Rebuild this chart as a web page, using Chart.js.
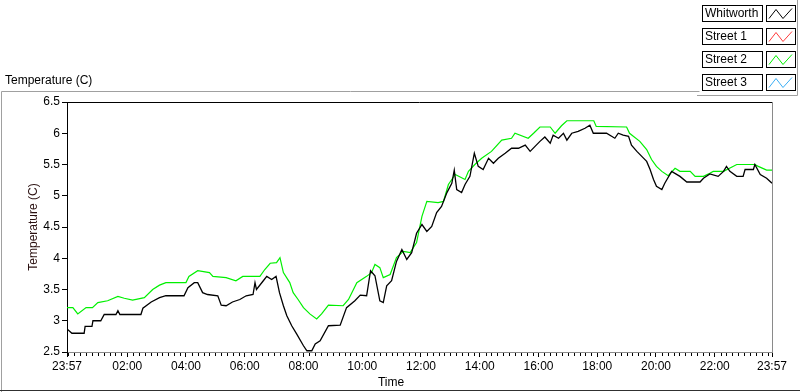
<!DOCTYPE html>
<html>
<head>
<meta charset="utf-8">
<script src="https://cdn.jsdelivr.net/npm/chart.js@4.4.1/dist/chart.umd.min.js"></script>
<style>
  html, body { margin: 0; padding: 0; background: #fff; }
  #wrap { width: 800px; height: 392px; }
</style>
</head>
<body>
<div id="wrap"><canvas id="tempChart" width="800" height="392"></canvas></div>
<script>
// minutes from midnight (-3 = 23:57 the day before, 1437 = 23:57)
const whitworthTimes = [-3, 7, 32, 34, 48, 50, 66, 73, 97, 101, 105, 148, 152, 169, 186, 199, 236, 244, 257, 264,
    274, 284, 305, 312, 322, 335, 350, 363, 377, 381, 384, 398, 405, 415, 424, 431, 439, 446, 456, 466,
    480, 487, 497, 504, 514, 531, 555, 568, 585, 596, 609, 617, 626, 636, 643, 650, 660, 670, 681, 691,
    701, 711, 722, 732, 742, 752, 762, 773, 783, 788, 793, 803, 810, 820, 829, 837, 847, 858, 868, 878,
    892, 905, 919, 933, 943, 953, 963, 973, 984, 990, 1001, 1011, 1018, 1028, 1041, 1055, 1065, 1072, 1099, 1116,
    1123, 1133, 1144, 1150, 1161, 1171, 1181, 1188, 1195, 1201, 1212, 1218, 1232, 1249, 1263, 1290, 1297, 1310, 1327, 1338,
    1344, 1351, 1365, 1378, 1382, 1399, 1402, 1413, 1426, 1437];
const whitworthTemps = [2.87, 2.80, 2.80, 2.91, 2.91, 3.00, 3.00, 3.10, 3.10, 3.16, 3.10, 3.10, 3.20, 3.30, 3.37, 3.40, 3.40, 3.53, 3.61, 3.61,
    3.45, 3.42, 3.40, 3.25, 3.24, 3.30, 3.34, 3.40, 3.42, 3.61, 3.50, 3.64, 3.71, 3.66, 3.71, 3.45, 3.24, 3.08, 2.92, 2.79,
    2.60, 2.52, 2.52, 2.63, 2.68, 2.92, 2.93, 3.21, 3.32, 3.41, 3.40, 3.80, 3.72, 3.32, 3.29, 3.56, 3.64, 3.95, 4.14, 3.98,
    4.09, 4.40, 4.54, 4.43, 4.51, 4.73, 4.83, 5.05, 5.20, 5.41, 5.10, 5.05, 5.18, 5.31, 5.68, 5.47, 5.42, 5.60, 5.52, 5.60,
    5.68, 5.76, 5.76, 5.81, 5.71, 5.79, 5.87, 5.94, 5.84, 5.97, 5.92, 6.00, 5.89, 6.00, 6.03, 6.08, 6.13, 6.00, 6.00, 5.92,
    6.00, 5.97, 5.95, 5.81, 5.71, 5.63, 5.55, 5.42, 5.26, 5.15, 5.10, 5.20, 5.39, 5.31, 5.22, 5.22, 5.28, 5.35, 5.31, 5.39,
    5.47, 5.39, 5.31, 5.31, 5.42, 5.42, 5.50, 5.34, 5.28, 5.20];

const street2Times = [-3, 9, 19, 36, 49, 60, 80, 101, 114, 131, 155, 172, 186, 199, 240, 246, 264, 288, 295, 322,
    342, 356, 391, 401, 412, 425, 432, 439, 452, 459, 469, 480, 493, 507, 517, 531, 561, 572, 589, 609,
    619, 626, 636, 643, 657, 670, 684, 698, 711, 722, 732, 755, 766, 776, 790, 810, 817, 830, 844, 864,
    885, 905, 912, 939, 950, 963, 984, 994, 1007, 1018, 1073, 1078, 1140, 1146, 1167, 1181, 1191, 1201, 1212, 1225,
    1239, 1249, 1270, 1280, 1297, 1310, 1317, 1338, 1365, 1402, 1409, 1426, 1437];
const street2Temps = [3.21, 3.21, 3.11, 3.21, 3.21, 3.29, 3.32, 3.39, 3.36, 3.33, 3.37, 3.50, 3.57, 3.61, 3.61, 3.71, 3.80, 3.77, 3.71, 3.69,
    3.64, 3.71, 3.71, 3.82, 3.92, 3.93, 4.01, 3.77, 3.61, 3.45, 3.34, 3.21, 3.11, 3.03, 3.11, 3.25, 3.24, 3.34, 3.61, 3.71,
    3.77, 3.90, 3.85, 3.69, 3.74, 4.01, 4.11, 4.09, 4.25, 4.67, 4.91, 4.89, 4.91, 5.18, 5.34, 5.26, 5.39, 5.50, 5.60, 5.71,
    5.89, 5.92, 6.00, 5.92, 6.00, 6.10, 6.10, 6.00, 6.12, 6.20, 6.20, 6.11, 6.10, 6.00, 5.87, 5.74, 5.58, 5.47, 5.39, 5.32,
    5.44, 5.39, 5.39, 5.31, 5.31, 5.36, 5.39, 5.39, 5.50, 5.50, 5.47, 5.41, 5.41];

// Street 1 and Street 3 are in the legend but have no data
const street1Times = [];
const street1Temps = [];
const street3Times = [];
const street3Temps = [];

const seriesNames = ['Whitworth', 'Street 1', 'Street 2', 'Street 3'];
const seriesColors = ['#000000', '#ff3c3c', '#00f000', '#3aaef5'];

const xTickTimes = [-3, 120, 240, 360, 480, 600, 720, 840, 960, 1080, 1200, 1320, 1437];
const xTickLabels = ['23:57', '02:00', '04:00', '06:00', '08:00', '10:00', '12:00', '14:00', '16:00', '18:00', '20:00', '22:00', '23:57'];
const yTickValues = [2.5, 3, 3.5, 4, 4.5, 5, 5.5, 6, 6.5];

const FONT = { family: 'Liberation Sans, Arial, sans-serif', size: 12 };

function toPoints(times, temps) {
    const n = Math.min(times.length, temps.length);
    const pts = [];
    for (let i = 0; i < n; i++) pts.push({ x: times[i], y: temps[i] });
    return pts;
}

// frame, plot border, minor ticks, labels and legend in LabVIEW style
const labviewDecor = {
    id: 'labviewDecor',
    beforeDraw(chart) {
        const c = chart.ctx;
        c.save();
        c.fillStyle = '#ffffff';
        c.fillRect(0, 0, chart.width, chart.height);
        c.restore();
    },
    afterDraw(chart) {
        const c = chart.ctx;
        const area = chart.chartArea;
        const xs = chart.scales.x;
        c.save();

        // outer panel frame
        c.lineWidth = 1;
        c.strokeStyle = '#a0a0a0';
        c.beginPath();
        c.moveTo(1.5, 392);
        c.lineTo(1.5, 91.5);
        c.lineTo(699.5, 91.5);
        c.moveTo(697, 95.5);
        c.lineTo(797.5, 95.5);
        c.lineTo(797.5, 0);
        c.stroke();
        c.strokeStyle = '#303030';
        c.beginPath();
        c.moveTo(0, 390.5);
        c.lineTo(800, 390.5);
        c.stroke();

        // plot border: top black, right grey
        c.strokeStyle = '#000000';
        c.beginPath();
        c.moveTo(area.left, Math.round(area.top) + 0.5);
        c.lineTo(area.right, Math.round(area.top) + 0.5);
        c.stroke();
        c.strokeStyle = '#8a8a8a';
        c.beginPath();
        c.moveTo(Math.round(area.right) + 0.5, area.top);
        c.lineTo(Math.round(area.right) + 0.5, area.bottom);
        c.stroke();

        // minor ticks every 12 minutes
        c.strokeStyle = '#000000';
        c.lineWidth = 1;
        const base = Math.round(area.bottom);
        for (let m = 0; m <= 1437; m += 12) {
            if (m % 120 === 0 && m > 0) continue;
            const px = Math.round(xs.getPixelForValue(m));
            c.fillStyle = '#000000';
            c.fillRect(px, base + 1, 1, 3);
        }

        // texts
        c.fillStyle = '#000000';
        c.font = FONT.size + 'px ' + FONT.family;
        c.textBaseline = 'middle';
        c.textAlign = 'left';
        c.fillText('Temperature (C)', 5, 81);
        c.textAlign = 'center';
        c.fillText('Time', 391, 383);

        // legend, in series order
        c.textAlign = 'left';
        seriesNames.forEach((name, i) => {
            const ds = chart.data.datasets.find(d => d.label === name);
            const top = 5.5 + i * 23;
            c.fillStyle = '#ffffff';
            c.fillRect(702.5, top, 60, 16);
            c.fillRect(766.5, top, 29, 16);
            c.strokeStyle = '#000000';
            c.lineWidth = 1;
            c.strokeRect(702.5, top, 60, 16);
            c.strokeRect(766.5, top, 29, 16);
            c.fillStyle = '#000000';
            c.fillText(name, 705, top + 8.5);
            c.strokeStyle = ds.borderColor;
            c.beginPath();
            c.moveTo(769, top + 13);
            c.lineTo(776, top + 4);
            c.lineTo(783, top + 13);
            c.lineTo(792, top + 3);
            c.stroke();
        });
        c.restore();
    }
};

const seriesData = [
    toPoints(whitworthTimes, whitworthTemps),
    toPoints(street1Times, street1Temps),
    toPoints(street2Times, street2Temps),
    toPoints(street3Times, street3Temps)
];

new Chart(document.getElementById('tempChart'), {
    type: 'line',
    data: {
        datasets: seriesNames.map((name, i) => ({
            label: name,
            data: seriesData[i],
            borderColor: seriesColors[i],
            backgroundColor: seriesColors[i],
            borderWidth: i === 0 ? 1.3 : 1.2,
            pointRadius: 0,
            fill: false,
            tension: 0,
            order: i   // Whitworth drawn on top
        }))
    },
    options: {
        responsive: false,
        animation: false,
        layout: { padding: { top: 102, right: 28, left: 0, bottom: 0 } },
        plugins: {
            legend: { display: false },
            tooltip: { enabled: false }
        },
        scales: {
            x: {
                type: 'linear',
                position: 'bottom',
                min: -3,
                max: 1437,
                afterBuildTicks: (scale) => {
                    scale.ticks = xTickTimes.map(v => ({ value: v }));
                },
                afterFit: (scale) => { scale.height = 40; },
                ticks: {
                    autoSkip: false,
                    maxRotation: 0,
                    minRotation: 0,
                    padding: 2,
                    color: '#000000',
                    font: FONT,
                    callback: (value, index) => xTickLabels[index]
                },
                grid: {
                    drawOnChartArea: false,
                    drawTicks: true,
                    tickLength: 5,
                    tickColor: '#000000'
                },
                border: { color: '#8a8a8a' }
            },
            y: {
                min: 2.5,
                max: 6.5,
                afterBuildTicks: (scale) => {
                    scale.ticks = yTickValues.map(v => ({ value: v }));
                },
                afterFit: (scale) => { scale.width = 67; },
                ticks: {
                    padding: 2,
                    color: '#000000',
                    font: FONT,
                    callback: (value) => String(value)
                },
                grid: {
                    drawOnChartArea: false,
                    drawTicks: true,
                    tickLength: 5,
                    tickColor: '#000000'
                },
                border: { color: '#000000' },
                title: {
                    display: true,
                    text: 'Temperature (C)',
                    color: '#2a1010',
                    font: FONT,
                    padding: { top: 26, bottom: 0 }
                }
            }
        }
    },
    plugins: [labviewDecor]
});
</script>
</body>
</html>
